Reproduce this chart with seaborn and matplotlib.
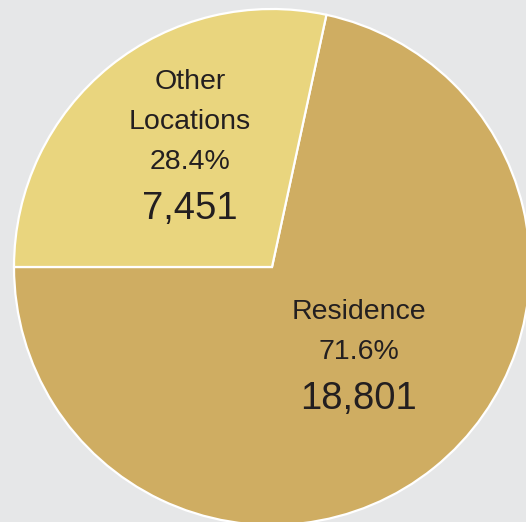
import numpy as np
import matplotlib
matplotlib.use("Agg")
import matplotlib.pyplot as plt
import seaborn as sns

# ---- data ----
categories = ["Residence", "Other Locations"]
display_names = ["Residence", "Other\nLocations"]
counts = [18801, 7451]
percents = ["71.6%", "28.4%"]
count_labels = ["18,801", "7,451"]

# ---- style ----
sns.set_theme(style="white")
plt.rcParams['font.family'] = ['Liberation Sans', 'DejaVu Sans']
colors = ["#cfad62", "#e9d57e"]
bg = "#e6e7e8"
txt = "#231f20"

W, H = 526, 522
dpi = 100
fig = plt.figure(figsize=(W / dpi, H / dpi), dpi=dpi, facecolor=bg)
ax = fig.add_axes([0, 0, 1, 1])
ax.set_facecolor(bg)

cx, cy, R = 272, 267, 258  # pixel centre (from top) and radius
wedges, _ = ax.pie(counts, colors=colors, startangle=180, counterclock=True,
                   radius=1.0,
                   wedgeprops=dict(edgecolor="white", linewidth=1.6))
ax.set_xlim(-cx / R, (W - cx) / R)
ax.set_ylim(-(H - cy) / R, cy / R)
ax.set_aspect("auto")
ax.axis("off")

# label anchor (percentage line) per wedge: radius fraction, angle offset
label_r = [0.471, 0.516]
label_dtheta = [6.8, -0.9]
name_offsets = [[40], [80, 40]]  # pixel offsets above the pct line

for i, w in enumerate(wedges):
    mid = np.deg2rad((w.theta1 + w.theta2) / 2 + label_dtheta[i])
    x, y = label_r[i] * np.cos(mid), label_r[i] * np.sin(mid)
    lines = display_names[i].split("\n")
    for ln, off in zip(lines, name_offsets[i]):
        ax.annotate(ln, (x, y), xytext=(0, off), textcoords="offset pixels",
                    ha="center", va="center", fontsize=20.5, color=txt)
    ax.annotate(percents[i], (x, y), xytext=(0, 0), textcoords="offset pixels",
                ha="center", va="center", fontsize=20.5, color=txt)
    ax.annotate(count_labels[i], (x, y), xytext=(0, -47), textcoords="offset pixels",
                ha="center", va="center", fontsize=27.5, color=txt)

fig.savefig("out.png", dpi=dpi, facecolor=bg)
